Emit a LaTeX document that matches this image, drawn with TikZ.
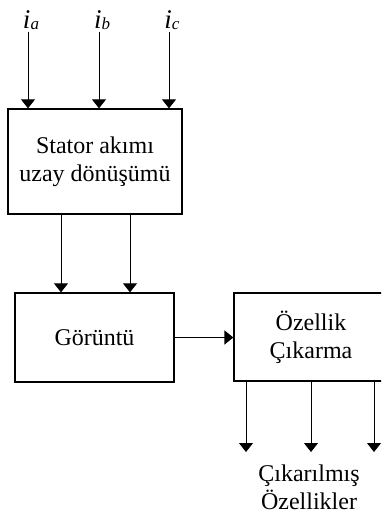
\documentclass[tikz,border=0pt]{standalone}
\usepackage{fontspec}
\setmainfont{Liberation Serif}
\usetikzlibrary{arrows.meta, positioning, calc}
\newcommand{\akim}[1]{{\fontsize{27}{27}\selectfont\textit{i}}\raisebox{-1pt}{\fontsize{17}{17}\selectfont\textit{#1}}}

\begin{document}
\begin{tikzpicture}[x=1pt,y=-1pt,
  blok/.style={draw,line width=1.3pt,align=center,inner sep=0pt,font=\fontsize{24}{28}\selectfont},
  etiket/.style={align=center,inner sep=2pt,font=\fontsize{24}{28}\selectfont},
  ok/.style={line width=0.8pt,-{Triangle[width=14pt,length=9pt]}}]
\useasboundingbox (0,0) rectangle (381,514);
\clip (0,0) rectangle (381,514);

\node[blok,minimum width=174pt,minimum height=105pt] (stator) at (95,161.5) {Stator akımı\\uzay dönüşümü};
\node[blok,minimum width=159pt,minimum height=89pt] (goruntu) at (94.5,337.5) {Görüntü};
\node[blok,minimum width=154pt,minimum height=88pt] (ozellik) at (311,337) {Özellik\\Çıkarma};

\node[etiket] (ia) at (31,20) {\akim{a}};
\node[etiket] (ib) at (102,20) {\akim{b}};
\node[etiket] (ic) at (172,20) {\akim{c}};
\node[etiket] (cikis) at (309,487) {Çıkarılmış\\Özellikler};
\coordinate (uc) at (311,452);

\foreach \n in {ia,ib,ic}
  \draw[ok] ([xshift=-3pt]\n.south) -- ([xshift=-3pt]\n.south |- stator.north);
\foreach \dx in {-34,35}
  \draw[ok] ([xshift=\dx pt]stator.south) -- ([xshift=\dx pt]stator.south |- goruntu.north);
\draw[ok,line width=1.4pt] (goruntu.east) -- (goruntu.east -| ozellik.west);
\foreach \dx in {-65,0,63}
  \draw[ok] ([xshift=\dx pt]ozellik.south) -- ([xshift=\dx pt]ozellik.south |- uc);
\end{tikzpicture}
\end{document}
